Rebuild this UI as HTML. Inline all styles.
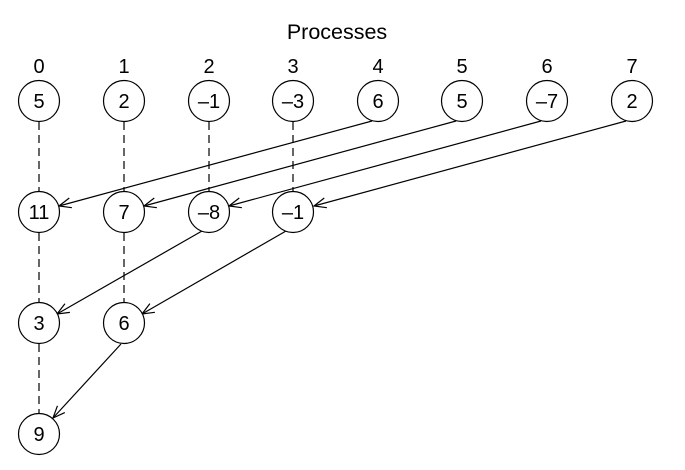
<!DOCTYPE html>
<html><head><style>
html,body{margin:0;padding:0;background:#fff;}
svg{display:block;}
text{font-family:"Liberation Sans",sans-serif;font-size:20px;fill:#000;}
</style></head><body>
<svg width="685" height="470" viewBox="0 0 685 470" xmlns="http://www.w3.org/2000/svg">
<defs>
<marker id="a" markerWidth="14" markerHeight="14" refX="13" refY="7" orient="auto" markerUnits="userSpaceOnUse">
<path d="M1,2 L13,7 L1,12" fill="none" stroke="#000" stroke-width="1.2"/>
</marker>
</defs>
<text x="337" y="39" text-anchor="middle" style="font-size:21.5px">Processes</text>
<g text-anchor="middle">
<text x="39" y="73">0</text><text x="124" y="73">1</text><text x="209" y="73">2</text><text x="293" y="73">3</text>
<text x="378" y="73">4</text><text x="462" y="73">5</text><text x="547" y="73">6</text><text x="632" y="73">7</text>
</g>
<g stroke="#000" stroke-width="1.2" stroke-dasharray="8,5" fill="none">
<line x1="39" y1="122" x2="39" y2="191"/><line x1="124" y1="122" x2="124" y2="191"/>
<line x1="209" y1="122" x2="209" y2="191"/><line x1="293" y1="122" x2="293" y2="191"/>
<line x1="39" y1="233" x2="39" y2="302"/><line x1="124" y1="233" x2="124" y2="302"/>
<line x1="39" y1="344" x2="39" y2="413"/>
</g>
<g stroke="#000" stroke-width="1.2" fill="none" marker-end="url(#a)">
<line x1="372" y1="121" x2="59" y2="206"/>
<line x1="456" y1="121" x2="144" y2="206"/>
<line x1="541" y1="121" x2="229" y2="206"/>
<line x1="626" y1="121" x2="314" y2="206"/>
<line x1="202" y1="231" x2="57" y2="314"/>
<line x1="286" y1="231" x2="142" y2="314"/>
<line x1="121" y1="344" x2="53" y2="418"/>
</g>
<g stroke="#000" stroke-width="1.2" fill="#fff">
<circle cx="39" cy="101" r="20.5"/><circle cx="124" cy="101" r="20.5"/><circle cx="209" cy="101" r="20.5"/><circle cx="293" cy="101" r="20.5"/>
<circle cx="378" cy="101" r="20.5"/><circle cx="462" cy="101" r="20.5"/><circle cx="547" cy="101" r="20.5"/><circle cx="632" cy="101" r="20.5"/>
<circle cx="39" cy="212" r="20.5"/><circle cx="124" cy="212" r="20.5"/><circle cx="209" cy="212" r="20.5"/><circle cx="293" cy="212" r="20.5"/>
<circle cx="39" cy="323" r="20.5"/><circle cx="124" cy="323" r="20.5"/>
<circle cx="39" cy="434" r="20.5"/>
</g>
<g text-anchor="middle">
<text x="39" y="108">5</text><text x="124" y="108">2</text><text x="209" y="108">–1</text><text x="293" y="108">–3</text>
<text x="378" y="108">6</text><text x="462" y="108">5</text><text x="547" y="108">–7</text><text x="632" y="108">2</text>
<text x="39" y="219">11</text><text x="124" y="219">7</text><text x="209" y="219">–8</text><text x="293" y="219">–1</text>
<text x="39" y="330">3</text><text x="124" y="330">6</text>
<text x="39" y="441">9</text>
</g>
</svg>
</body></html>
